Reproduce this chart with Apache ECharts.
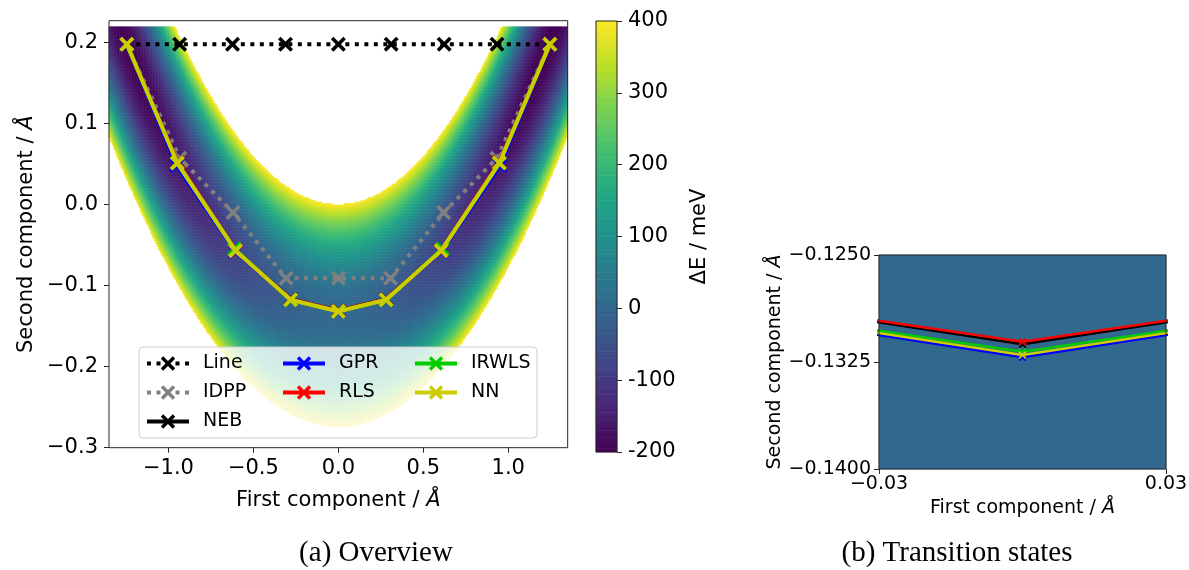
<!DOCTYPE html>
<html>
<head>
<meta charset="utf-8">
<script src="https://cdn.jsdelivr.net/npm/echarts@6/dist/echarts.min.js"></script>
<style>
  html, body { margin: 0; padding: 0; background: #ffffff; }
  #chart { width: 1189px; height: 570px; }
</style>
</head>
<body>
<div id="chart"></div>
<script>
// ---------------------------------------------------------------
// Reaction paths projected onto the first two components (Å)
// ---------------------------------------------------------------
const lineX  = [-1.245, -0.934, -0.623, -0.311, 0, 0.311, 0.623, 0.934, 1.245];
const lineY  = [0.1975, 0.1975, 0.1975, 0.1975, 0.1975, 0.1975, 0.1975, 0.1975, 0.1975];

const idppX  = [-1.245, -0.933, -0.620, -0.307, 0, 0.307, 0.620, 0.933, 1.245];
const idppY  = [0.1975, 0.057, -0.010, -0.091, -0.091, -0.091, -0.010, 0.057, 0.1975];

const nebX   = [-1.245, -0.948, -0.605, -0.281, 0, 0.281, 0.605, 0.948, 1.245];
const nebY   = [0.1975, 0.051, -0.057, -0.1168, -0.13126, -0.1168, -0.057, 0.051, 0.1975];

const gprX   = [-1.245, -0.952, -0.606, -0.281, 0, 0.281, 0.606, 0.952, 1.245];
const gprY   = [0.1975, 0.048, -0.058, -0.1176, -0.13217, -0.1176, -0.058, 0.048, 0.1975];

const rlsX   = [-1.245, -0.946, -0.604, -0.281, 0, 0.281, 0.604, 0.946, 1.245];
const rlsY   = [0.1975, 0.052, -0.057, -0.1173, -0.13108, -0.1173, -0.057, 0.052, 0.1975];

const irwlsX = [-1.245, -0.948, -0.612, -0.281, 0, 0.281, 0.612, 0.948, 1.245];
const irwlsY = [0.1975, 0.051, -0.055, -0.1180, -0.13178, -0.1180, -0.055, 0.051, 0.1975];

const nnX    = [-1.245, -0.948, -0.605, -0.281, 0, 0.281, 0.605, 0.948, 1.245];
const nnY    = [0.1975, 0.051, -0.057, -0.1176, -0.13201, -0.1176, -0.057, 0.051, 0.1975];

// Tick labels
const overviewXTicks = [-1.0, -0.5, 0.0, 0.5, 1.0];
const overviewYTicks = [-0.3, -0.2, -0.1, 0.0, 0.1, 0.2];

// Energy scale (meV)
const energyMin = -200;
const energyMax = 400;
const energyStep = 100;
const viridis = ['#440154', '#482475', '#414487', '#355f8d', '#2a788e', '#21918c',
                 '#22a884', '#44bf70', '#7ad151', '#bddf26', '#fde725'];

// Model potential: curved valley with two wells joined by a saddle
const valleyY0   = -0.137;   // valley floor at the saddle (Å)
const valleyCurv = 0.2166;   // floor curvature (1/Å)
const wallHalf0  = 0.137;    // half width of the valley at the cut-off energy (Å)
const wallWiden  = 0.02;     // widening of the valley towards the wells
const saddleE    = 0;        // energy at the saddle (meV)
const wellE      = -200;     // energy in the wells (meV)
const wellX      = 1.245;    // first component of the wells (Å)

function energy(x, y) {
  const floorY = valleyY0 + valleyCurv * x * x;
  const half = wallHalf0 + wallWiden * x * x;
  const q = 1 - (x / wellX) * (x / wellX);
  const floorE = saddleE + (wellE - saddleE) * (1 - q * q);
  const u = (y - floorY) / half;
  return floorE + (energyMax - floorE) * u * u;
}

// Sample the surface on a regular grid; cells above the cut-off stay blank
function sampleSurface(x0, x1, nx, y0, y1, ny, yTop) {
  const xs = [], ys = [], cells = [];
  const dx = (x1 - x0) / nx, dy = (y1 - y0) / ny;
  for (let i = 0; i < nx; i++) xs.push(String(i));
  for (let j = 0; j < ny; j++) ys.push(String(j));
  for (let i = 0; i < nx; i++) {
    const x = x0 + (i + 0.5) * dx;
    for (let j = 0; j < ny; j++) {
      const y = y0 + (j + 0.5) * dy;
      if (y > yTop) continue;
      const e = energy(x, y);
      if (e <= energyMax) cells.push([i, j, e]);
    }
  }
  return { xs, ys, cells };
}

// Axis ranges
const overviewXRange = [-1.35, 1.35];
const overviewYRange = [-0.3, 0.2266];
const surfaceTop = 0.22;
const zoomXRange = [-0.03, 0.03];
const zoomYRange = [-0.14, -0.125];

const overviewField = sampleSurface(overviewXRange[0], overviewXRange[1], 306,
                                    overviewYRange[0], overviewYRange[1], 285, surfaceTop);
// the close-up spans only a few meV, so one cell is enough
const zoomField = sampleSurface(zoomXRange[0], zoomXRange[1], 1,
                                zoomYRange[0], zoomYRange[1], 1, 1);

// Colour bar cells
const colorbarLevels = 120;
const colorbarRows = [], colorbarCells = [];
for (let j = 0; j < colorbarLevels; j++) {
  colorbarRows.push(String(j));
  colorbarCells.push([0, j, energyMin + (j + 0.5) * (energyMax - energyMin) / colorbarLevels]);
}

// ---------------------------------------------------------------
const FONT = 'DejaVu Sans';
const INK = '#000000';
const FRAME = '#262626';
const crossMarker = 'path://M1.7,0L5,3.3L8.3,0L10,1.7L6.7,5L10,8.3L8.3,10L5,6.7L1.7,10L0,8.3L3.3,5L0,1.7Z';

function signed(v, digits) {
  const s = Math.abs(v).toFixed(digits);
  return (v < 0 && Number(s) !== 0 ? '\u2212' : '') + s;
}

function pathSeries(name, xs, ys, color, opts) {
  return {
    type: 'line',
    name: name,
    xAxisIndex: opts.xAxisIndex,
    yAxisIndex: opts.yAxisIndex,
    data: xs.map((x, i) => [x, ys[i]]),
    symbol: crossMarker,
    symbolSize: opts.symbolSize,
    showSymbol: true,
    showAllSymbol: true,
    clip: true,
    lineStyle: { color: color, width: opts.width, type: opts.dash || 'solid', cap: 'butt', opacity: 1 },
    itemStyle: { color: color },
    emphasis: { disabled: true },
    silent: true,
    z: opts.z,
    animation: false
  };
}

const big = { xAxisIndex: 0, yAxisIndex: 0, symbolSize: 15, width: 4 };
const small = { xAxisIndex: 3, yAxisIndex: 4, symbolSize: 8, width: 2.4 };
const dotted = [4, 5.5];

const series = [
  // surfaces
  { type: 'heatmap', xAxisIndex: 1, yAxisIndex: 1, data: overviewField.cells,
    progressive: 0, silent: true, emphasis: { disabled: true }, z: 1 },
  { type: 'heatmap', xAxisIndex: 2, yAxisIndex: 2, data: colorbarCells,
    progressive: 0, silent: true, emphasis: { disabled: true }, z: 1 },
  { type: 'heatmap', xAxisIndex: 4, yAxisIndex: 5, data: zoomField.cells,
    progressive: 0, silent: true, emphasis: { disabled: true }, z: 1 },

  // overview paths
  pathSeries('Line',  lineX,  lineY,  '#000000', Object.assign({ dash: dotted, z: 3 }, big)),
  pathSeries('IDPP',  idppX,  idppY,  '#808080', Object.assign({ dash: dotted, z: 4 }, big)),
  pathSeries('NEB',   nebX,   nebY,   '#000000', Object.assign({ z: 5 }, big)),
  pathSeries('GPR',   gprX,   gprY,   '#0000ff', Object.assign({ z: 6 }, big)),
  pathSeries('RLS',   rlsX,   rlsY,   '#ff0000', Object.assign({ z: 7 }, big)),
  pathSeries('IRWLS', irwlsX, irwlsY, '#00cc00', Object.assign({ z: 8 }, big)),
  pathSeries('NN',    nnX,    nnY,    '#cccc00', Object.assign({ z: 9 }, big)),

  // transition-state close-up
  pathSeries('NEB',   nebX,   nebY,   '#000000', Object.assign({ z: 5 }, small)),
  pathSeries('GPR',   gprX,   gprY,   '#0000ff', Object.assign({ z: 6 }, small)),
  pathSeries('RLS',   rlsX,   rlsY,   '#ff0000', Object.assign({ z: 7 }, small)),
  pathSeries('IRWLS', irwlsX, irwlsY, '#00cc00', Object.assign({ z: 8 }, small)),
  pathSeries('NN',    nnX,    nnY,    '#cccc00', Object.assign({ z: 9 }, small))
];

const tickStyle = { lineStyle: { color: FRAME, width: 1 }, length: 5, inside: false };
const hiddenCat = (gridIndex, data, extra) => Object.assign({
  gridIndex: gridIndex, type: 'category', data: data, show: false
}, extra || {});

const frameGrid = (left, top, width, height, show) => ({
  left: left, top: top, width: width, height: height,
  containLabel: false, outerBoundsMode: 'none',
  show: show, borderColor: FRAME, borderWidth: 1, backgroundColor: 'transparent', z: 20
});

const nameStyle = size => ({
  fontSize: size, color: INK, fontFamily: FONT,
  rich: { i: { fontSize: size, fontStyle: 'italic', fontFamily: FONT, color: INK } }
});

const option = {
  animation: false,
  backgroundColor: '#ffffff',
  textStyle: { fontFamily: FONT },
  grid: [
    frameGrid(109, 20.7, 458.7, 427, true),   // overview axes
    frameGrid(109, 20.7, 458.7, 427, false),  // overview surface
    frameGrid(596, 21, 21, 431, true),        // colour bar
    frameGrid(879, 255, 287, 214, true),      // close-up axes
    frameGrid(879, 255, 287, 214, false)      // close-up surface
  ],
  xAxis: [
    {
      gridIndex: 0, type: 'value', min: overviewXRange[0], max: overviewXRange[1],
      axisLine: { show: false, onZero: false },
      axisTick: Object.assign({ show: true, customValues: overviewXTicks }, tickStyle),
      axisLabel: { customValues: overviewXTicks, formatter: v => signed(v, 1),
                   fontSize: 21, color: INK, margin: 10, fontFamily: FONT },
      splitLine: { show: false },
      name: 'First component / {i|Å}', nameLocation: 'middle', nameGap: 42,
      nameTextStyle: nameStyle(21),
      z: 10
    },
    hiddenCat(1, overviewField.xs),
    hiddenCat(2, ['0']),
    {
      gridIndex: 3, type: 'value', min: zoomXRange[0], max: zoomXRange[1], interval: 0.06,
      axisLine: { show: false, onZero: false },
      axisTick: Object.assign({ show: true }, tickStyle),
      axisLabel: { formatter: v => signed(v, 2), fontSize: 19, color: INK, margin: 6,
                   fontFamily: FONT, showMinLabel: true, showMaxLabel: true },
      splitLine: { show: false },
      name: 'First component / {i|Å}', nameLocation: 'middle', nameGap: 30,
      nameTextStyle: nameStyle(19),
      z: 10
    },
    hiddenCat(4, zoomField.xs)
  ],
  yAxis: [
    {
      gridIndex: 0, type: 'value', min: overviewYRange[0], max: overviewYRange[1],
      axisLine: { show: false, onZero: false },
      axisTick: Object.assign({ show: true, customValues: overviewYTicks }, tickStyle),
      axisLabel: { customValues: overviewYTicks, formatter: v => signed(v, 1),
                   fontSize: 21, color: INK, margin: 11, fontFamily: FONT },
      splitLine: { show: false },
      name: 'Second component / {i|Å}', nameLocation: 'middle', nameRotate: 90, nameGap: 72,
      nameTextStyle: nameStyle(21),
      z: 10
    },
    hiddenCat(1, overviewField.ys),
    hiddenCat(2, colorbarRows, { position: 'left' }),
    {
      gridIndex: 2, type: 'value', position: 'right', min: energyMin, max: energyMax, interval: energyStep,
      axisLine: { show: false },
      axisTick: Object.assign({ show: true }, tickStyle),
      axisLabel: { fontSize: 21, color: INK, margin: 11, fontFamily: FONT },
      splitLine: { show: false },
      name: 'ΔE / meV', nameLocation: 'middle', nameRotate: 90, nameGap: 72,
      nameTextStyle: { fontSize: 21, color: INK, fontFamily: FONT },
      z: 10
    },
    {
      gridIndex: 3, type: 'value', min: zoomYRange[0], max: zoomYRange[1], interval: 0.0075,
      axisLine: { show: false, onZero: false },
      axisTick: Object.assign({ show: true }, tickStyle),
      axisLabel: { formatter: v => signed(v, 4), fontSize: 19, color: INK, margin: 8,
                   fontFamily: FONT, showMinLabel: true, showMaxLabel: true },
      splitLine: { show: false },
      name: 'Second component / {i|Å}', nameLocation: 'middle', nameRotate: 90, nameGap: 92,
      nameTextStyle: nameStyle(19),
      z: 10
    },
    hiddenCat(4, zoomField.ys)
  ],
  visualMap: {
    type: 'continuous', show: false, min: energyMin, max: energyMax,
    dimension: 2, seriesIndex: [0, 1, 2],
    inRange: { color: viridis }
  },
  legend: [
    { data: ['Line', 'IDPP', 'NEB'], left: 145, top: 354 },
    { data: ['GPR', 'RLS'], left: 281, top: 354 },
    { data: ['IRWLS', 'NN'], left: 413, top: 354 }
  ].map(l => Object.assign({
    orient: 'vertical', itemWidth: 42, itemHeight: 18, itemGap: 10, padding: 0,
    selectedMode: false, z: 60,
    lineStyle: { width: 'inherit', type: 'inherit', cap: 'butt' },
    textStyle: { fontSize: 19, color: INK, fontFamily: FONT, padding: [0, 0, 0, 9] }
  }, l)),
  graphic: [
    { type: 'rect', z: 50, silent: true,
      shape: { x: 139, y: 347, width: 398, height: 91, r: 4 },
      style: { fill: 'rgba(255,255,255,0.8)', stroke: '#cccccc', lineWidth: 1 } },
    { type: 'text', x: 376, y: 553, silent: true,
      style: { text: '(a) Overview', fontSize: 29, fontFamily: 'Liberation Serif', fill: INK,
               align: 'center', verticalAlign: 'middle', textAlign: 'center', textVerticalAlign: 'middle' } },
    { type: 'text', x: 957, y: 553, silent: true,
      style: { text: '(b) Transition states', fontSize: 29, fontFamily: 'Liberation Serif', fill: INK,
               align: 'center', verticalAlign: 'middle', textAlign: 'center', textVerticalAlign: 'middle' } }
  ],
  series: series
};

const chart = echarts.init(document.getElementById('chart'), null, { renderer: 'canvas' });
chart.setOption(option);
</script>
</body>
</html>
